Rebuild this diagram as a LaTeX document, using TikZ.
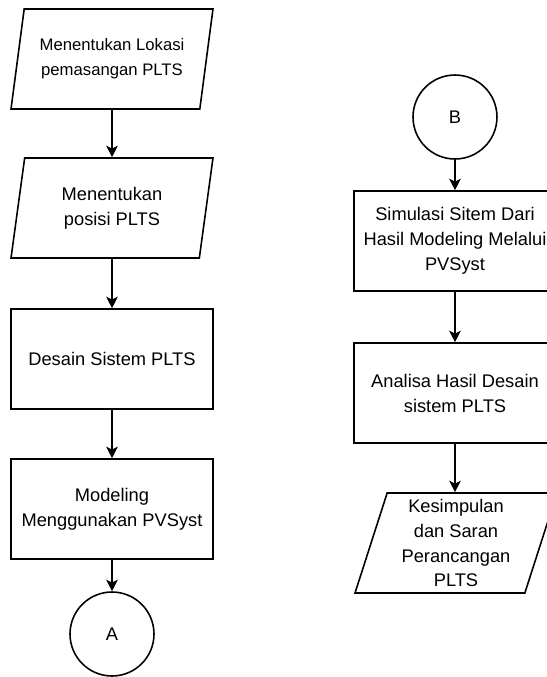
\documentclass[tikz,border=0pt]{standalone}
\usepackage{fontspec}
\setmainfont{Liberation Sans}
\usepackage{tikz}
\usetikzlibrary{shapes.geometric, arrows.meta, positioning}

\tikzset{
  boxfont/.style={font=\fontsize{10.4}{14.2}\selectfont},
  procbox/.style={draw, line width=0.9pt, rectangle, minimum width=4.04cm, minimum height=2cm, align=center, boxfont},
  iobox/.style={draw, line width=0.9pt, trapezium, trapezium left angle=72, trapezium right angle=108, trapezium stretches body, minimum width=4.04cm, minimum height=2cm, inner xsep=2pt, inner ysep=0pt, align=center, boxfont},
  joint/.style={draw, line width=0.9pt, circle, minimum size=1.68cm, inner sep=0pt, boxfont},
  flow/.style={-{Stealth[length=6.5pt,width=6.5pt,inset=1.6pt]}, line width=0.9pt}
}

\begin{document}
\begin{tikzpicture}[x=0.02cm, y=-0.02cm]
\path[use as bounding box] (0,0) rectangle (547,677);
\clip (0,0) rectangle (547,677);

% Left column
\node[iobox, font=\fontsize{9.5}{14.2}\selectfont] (lokasi) at (112,59) {Menentukan Lokasi\\pemasangan PLTS};
\node[iobox] (posisi) at (112,208) {Menentukan\\posisi PLTS};
\node[procbox] (desain) at (112,359) {Desain Sistem PLTS};
\node[procbox] (modeling) at (112,509) {Modeling\\Menggunakan PVSyst};
\node[joint] (conA) at (112,634) {A};

% Right column
\node[joint] (conB) at (455,117) {B};
\node[procbox] (simulasi) at (455,241) {Simulasi Sitem Dari\\Hasil Modeling Melalui\\PVSyst};
\node[procbox] (analisa) at (455,393) {Analisa Hasil Desain\\sistem PLTS};
\node[iobox, trapezium left angle=70, trapezium right angle=110] (simpul) at (456,543) {Kesimpulan\\dan Saran\\Perancangan\\PLTS};

% Arrows
\draw[flow] (lokasi) -- (posisi);
\draw[flow] (posisi) -- (desain);
\draw[flow] (desain) -- (modeling);
\draw[flow] (modeling) -- (conA);
\draw[flow] (conB) -- (simulasi);
\draw[flow] (simulasi) -- (analisa);
\draw[flow] (analisa.south) -- (analisa.south |- simpul.north);
\end{tikzpicture}
\end{document}
